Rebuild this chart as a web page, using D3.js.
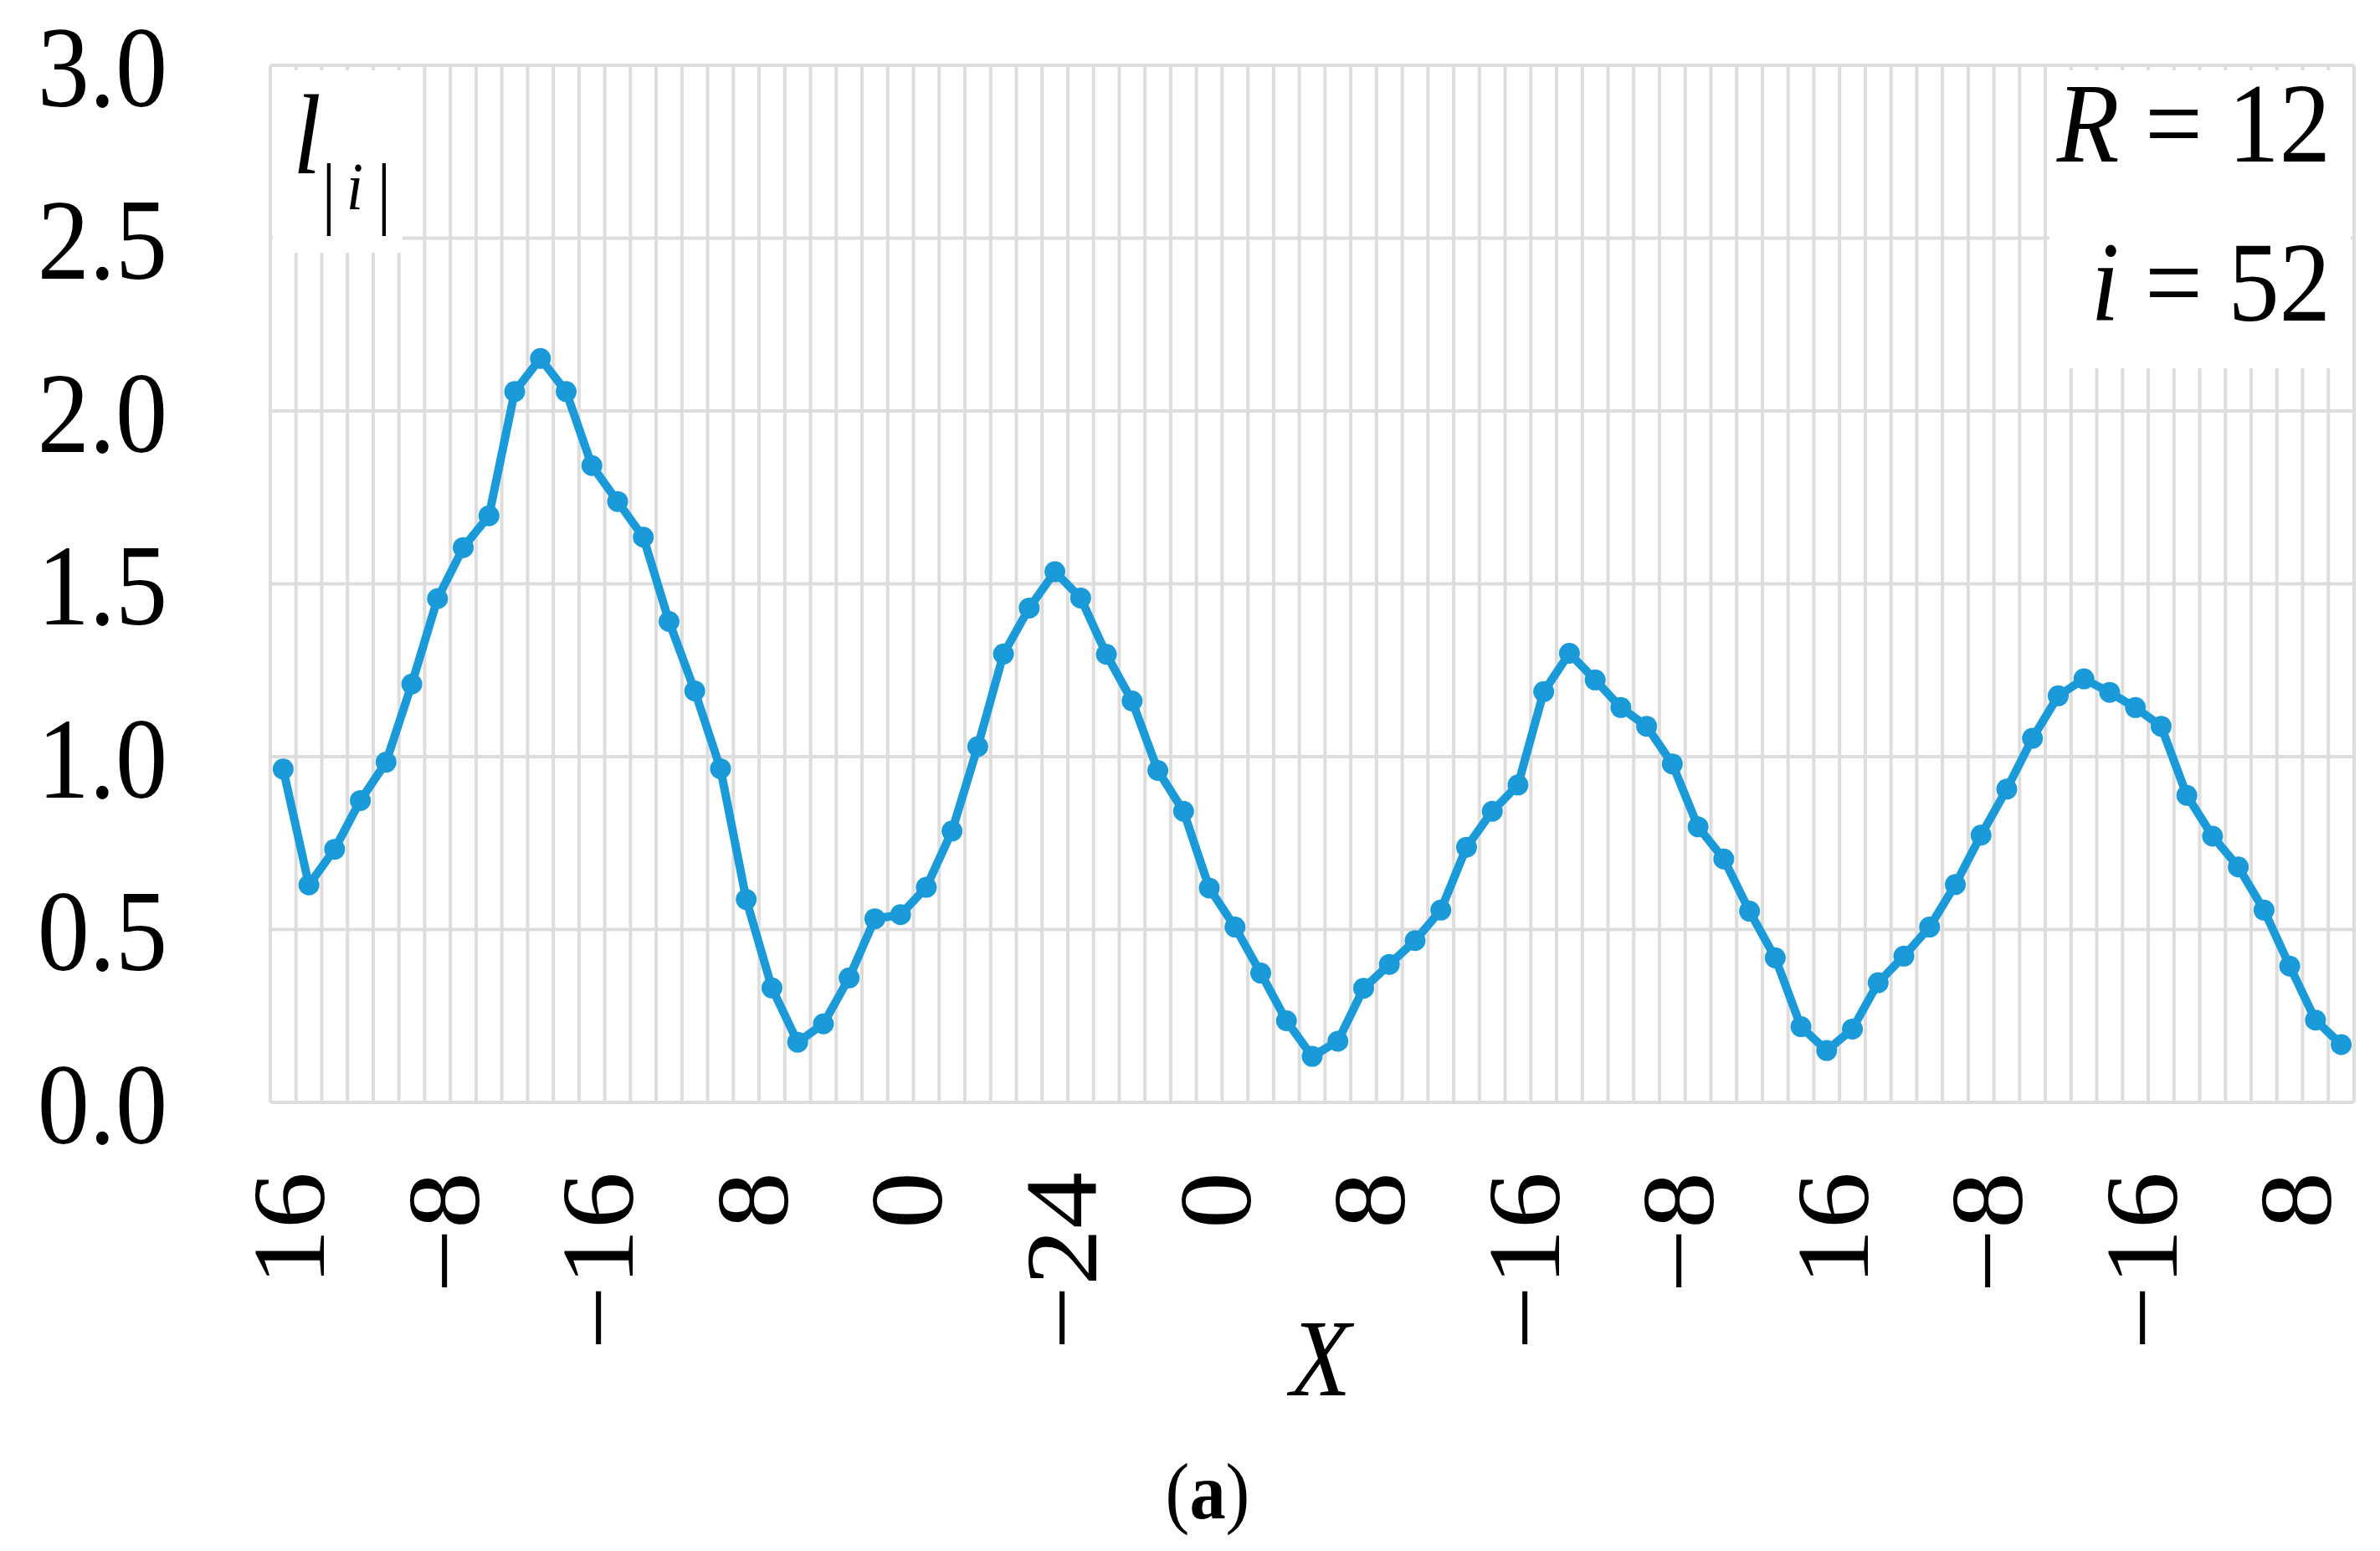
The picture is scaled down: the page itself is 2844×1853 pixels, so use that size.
<!DOCTYPE html>
<html lang="en">
<head>
<meta charset="utf-8">
<script src="https://d3js.org/d3.v7.min.js"></script>
<style>
  body { margin: 0; background: #fff; }
  text { font-family: "Liberation Serif", "Times New Roman", serif; fill: #000; }
</style>
</head>
<body>
<script>
// l_|i| values, one per category (81 points)
const values = [
  0.964, 0.629, 0.732, 0.873, 0.984, 1.210, 1.457, 1.605, 1.697, 2.056,
  2.152, 2.056, 1.842, 1.738, 1.635, 1.391, 1.190, 0.965, 0.587, 0.331,
  0.174, 0.227, 0.360, 0.531, 0.543, 0.622, 0.785, 1.029, 1.297, 1.430,
  1.535, 1.459, 1.296, 1.161, 0.960, 0.842, 0.620, 0.507, 0.374, 0.236,
  0.133, 0.177, 0.330, 0.399, 0.468, 0.556, 0.738, 0.842, 0.918, 1.188,
  1.299, 1.222, 1.142, 1.088, 0.979, 0.797, 0.704, 0.553, 0.418, 0.219,
  0.150, 0.212, 0.346, 0.423, 0.507, 0.630, 0.773, 0.906, 1.053, 1.176,
  1.225, 1.186, 1.142, 1.088, 0.888, 0.770, 0.681, 0.556, 0.394, 0.238,
  0.167
];
const categories = values.map((d, i) => i);

// only every 6th category carries a label
const tickIndex = [0, 6, 12, 18, 24, 30, 36, 42, 48, 54, 60, 66, 72, 78];
const tickLabels = ["16", "\u22128", "\u221216", "8", "0", "\u221224", "0", "8",
                    "\u221216", "\u22128", "16", "\u22128", "\u221216", "8"];
const yTicks = [0, 0.5, 1.0, 1.5, 2.0, 2.5, 3.0];

const W = 2844, H = 1853;
const pLeft = 323, pRight = 2813, pTop = 78, pBottom = 1317;
const squeeze = "scale(0.9,1)";
const blue = "#1a9ad8", grid = "#dddddd";

const svg = d3.select("body").append("svg")
  .attr("width", W).attr("height", H);

svg.append("rect").attr("width", W).attr("height", H).attr("fill", "#fff");

const x = d3.scaleBand().domain(categories).range([pLeft, pRight]);
const y = d3.scaleLinear().domain([0, 3]).range([pBottom, pTop]);

// vertical gridlines between categories
const edges = categories.map(d => x(d)).concat([pRight]);
svg.append("g").selectAll("line").data(edges).enter().append("line")
  .attr("x1", d => d).attr("x2", d => d)
  .attr("y1", pTop).attr("y2", pBottom)
  .attr("stroke", grid).attr("stroke-width", 4);

// horizontal gridlines
svg.append("g").selectAll("line").data(yTicks).enter().append("line")
  .attr("x1", pLeft).attr("x2", pRight)
  .attr("y1", d => y(d)).attr("y2", d => y(d))
  .attr("stroke", grid).attr("stroke-width", 4);

// white label boxes sitting on the grid
svg.append("rect").attr("x", 326).attr("y", 84).attr("width", 155).attr("height", 218).attr("fill", "#fff");
svg.append("rect").attr("x", 2449).attr("y", 84).attr("width", 360).attr("height", 356).attr("fill", "#fff");

// y axis labels
const yAxis = svg.append("g")
  .attr("transform", "translate(200,0)")
  .call(d3.axisLeft(y).tickValues(yTicks).tickFormat(d3.format(".1f")).tickSize(0));
yAxis.select(".domain").remove();
yAxis.selectAll("text")
  .attr("x", 0).attr("dy", "0.35em")
  .attr("transform", squeeze)
  .style("font-size", "138px")
  .style("font-family", "'Liberation Serif', serif")
  .attr("text-anchor", "end");

// x axis labels, rotated
const xAxis = svg.append("g")
  .attr("transform", "translate(0,1400)")
  .call(d3.axisBottom(x).tickValues(tickIndex)
    .tickFormat(d => tickLabels[tickIndex.indexOf(d)]).tickSize(0));
xAxis.select(".domain").remove();
xAxis.selectAll("text")
  .attr("x", 0).attr("y", 0).attr("dy", "0.4em")
  .attr("transform", squeeze + " rotate(-90)")
  .attr("text-anchor", "end")
  .style("font-size", "136px")
  .style("font-family", "'Liberation Serif', serif");

// series
const line = d3.line()
  .x((d, i) => x(i) + x.bandwidth() / 2)
  .y(d => y(d));

svg.append("path").datum(values)
  .attr("fill", "none").attr("stroke", blue)
  .attr("stroke-width", 10).attr("stroke-linejoin", "round")
  .attr("d", line);

svg.append("g").selectAll("circle").data(values).enter().append("circle")
  .attr("cx", (d, i) => x(i) + x.bandwidth() / 2)
  .attr("cy", d => y(d))
  .attr("r", 12.5)
  .attr("fill", blue);

// y label l_|i|
const yl = svg.append("g");
yl.append("text").attr("transform", "translate(350,207) " + squeeze)
  .style("font-size", "135px").style("font-style", "italic").text("l");
yl.append("text").attr("transform", "translate(393,262) " + squeeze)
  .attr("text-anchor", "middle").style("font-size", "96px").text("|");
yl.append("text").attr("transform", "translate(424,250) " + squeeze)
  .attr("text-anchor", "middle").style("font-size", "80px").style("font-style", "italic").text("i");
yl.append("text").attr("transform", "translate(459,262) " + squeeze)
  .attr("text-anchor", "middle").style("font-size", "96px").text("|");

// parameters box
const lg = svg.append("g");
const legendLines = [["R", " = 12", 193], ["i", " = 52", 383]];
legendLines.forEach(l => {
  const t = lg.append("text")
    .attr("transform", "translate(2785," + l[2] + ") " + squeeze)
    .attr("text-anchor", "end")
    .style("font-size", "136px");
  t.append("tspan").style("font-style", "italic").text(l[0]);
  t.append("tspan").text(l[1]);
});

// axis title and panel tag
svg.append("text").attr("transform", "translate(1578,1667) " + squeeze)
  .attr("text-anchor", "middle").style("font-size", "132px").style("font-style", "italic").text("X");

const tag = svg.append("text").attr("transform", "translate(1443,1814) " + squeeze)
  .attr("text-anchor", "middle").style("font-size", "96px");
tag.append("tspan").text("(");
tag.append("tspan").style("font-weight", "bold").text("a");
tag.append("tspan").text(")");
</script>
</body>
</html>
